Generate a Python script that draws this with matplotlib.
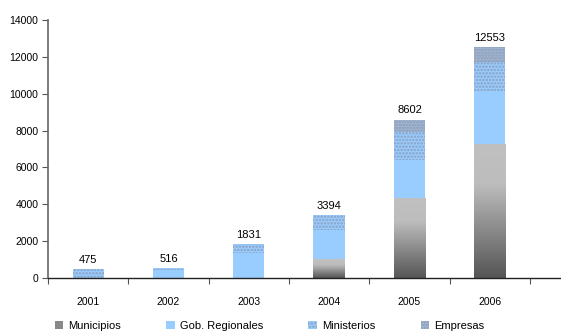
import numpy as np
import matplotlib
matplotlib.use("Agg")
import matplotlib.pyplot as plt
from matplotlib.colors import LinearSegmentedColormap
from matplotlib.patches import Patch

years = ["2001", "2002", "2003", "2004", "2005", "2006"]
municipios = [0, 0, 0, 1000, 4352, 7290]
gob_regionales = [0, 416, 1340, 1590, 2060, 2890]
ministerios = [475, 100, 491, 804, 1500, 1558]
empresas = [0, 0, 0, 0, 690, 815]
totals = [475, 516, 1831, 3394, 8602, 12553]
yticks = [0, 2000, 4000, 6000, 8000, 10000, 12000, 14000]

plt.rcParams['font.family'] = ['Liberation Sans', 'DejaVu Sans']
plt.rcParams['hatch.linewidth'] = 1.2

fig = plt.figure(figsize=(5.61, 3.33), dpi=100)
W, H = 561, 333
ax = fig.add_axes([48 / W, (H - 277.7) / H, (561 - 48) / W, (277.7 - 20.3) / H])

x = np.arange(len(years))
bw = 0.39
c_gob = '#99ccff'
c_min = '#99ccff'
c_emp = '#a3b8d6'

b_mun = ax.bar(x, municipios, bw, color='none', linewidth=0)
bottom1 = np.array(municipios, dtype=float)
ax.bar(x, gob_regionales, bw, bottom=bottom1, color=c_gob, linewidth=0)
bottom2 = bottom1 + np.array(gob_regionales)
ax.bar(x, ministerios, bw, bottom=bottom2, color=c_min, edgecolor='#8aa0be',
       hatch='.....', linewidth=0)
bottom3 = bottom2 + np.array(ministerios)
ax.bar(x, empresas, bw, bottom=bottom3, color=c_emp, edgecolor='#8a9ab2',
       hatch='......', linewidth=0)

# gradient fill for municipios
cmap = LinearSegmentedColormap.from_list('g', [(0, '#555555'), (0.7, '#bdbdbd'), (1, '#c0c0c0')])
grad = np.linspace(0, 1, 256).reshape(-1, 1)
for rect in b_mun:
    h = rect.get_height()
    if h <= 0:
        continue
    x0 = rect.get_x()
    w = rect.get_width()
    im = ax.imshow(grad, cmap=cmap, origin='lower', aspect='auto',
                   extent=(x0, x0 + w, 0, h), zorder=rect.get_zorder())
    im.set_clip_path(rect)

for i, t in enumerate(totals):
    ax.annotate(f"{t}", (x[i], t), xytext=(0, 3), textcoords='offset points',
                ha='center', va='bottom', fontsize=8)

ax.set_xlim(-0.5, 5.5 + (561 - 530) / 80.3)
ax.set_ylim(0, 14000)
ax.set_yticks(yticks)
ax.set_yticklabels([str(v) for v in yticks], fontsize=7.5)
ax.set_xticks(np.arange(-0.5, 6, 1.0))
ax.set_xticklabels([])
ax.set_xticks(x, minor=True)
ax.set_xticklabels(years, minor=True, fontsize=7.5)
ax.tick_params(axis='x', which='minor', length=0, pad=14)
ax.tick_params(axis='x', which='major', length=4, color='#555555', direction='out')
ax.tick_params(axis='y', length=4, color='#555555', direction='out', pad=3)
for s in ['top', 'right']:
    ax.spines[s].set_visible(False)
ax.spines['left'].set_color('#666666')
ax.spines['bottom'].set_color('#222222')
ax.spines['left'].set_linewidth(1.2)
ax.spines['bottom'].set_linewidth(1.0)

handles = [
    Patch(facecolor='#888888', linewidth=0, label='Municipios'),
    Patch(facecolor=c_gob, linewidth=0, label='Gob. Regionales'),
    Patch(facecolor=c_min, edgecolor='#8aa0be', hatch='.....', linewidth=0, label='Ministerios'),
    Patch(facecolor=c_emp, edgecolor='#8a9ab2', hatch='......', linewidth=0, label='Empresas'),
]
fig.legend(handles=handles, loc='center', bbox_to_anchor=(0.48, (H - 326) / H), ncol=4,
           frameon=False, fontsize=8, handlelength=0.8, handleheight=0.8,
           handletextpad=0.4, columnspacing=4.1)

fig.savefig('out.png', dpi=100)
